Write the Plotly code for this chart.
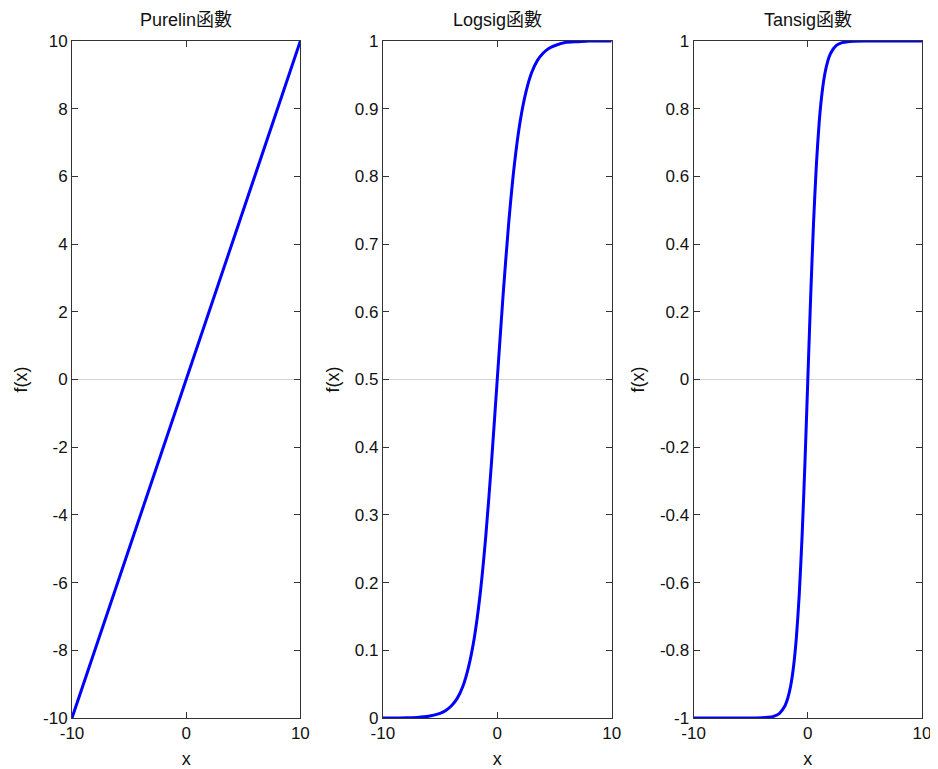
import plotly.graph_objects as go

# ---- data ----
titles = ["Purelin函數", "Logsig函數", "Tansig函數"]

pure_x = [-10, 10]
pure_y = [-10, 10]

log_x = [-10, -9, -8, -7, -6, -5, -4.5, -4, -3.5, -3, -2.5, -2, -1.5, -1, -0.5, 0,
         0.5, 1, 1.5, 2, 2.5, 3, 3.5, 4, 4.5, 5, 6, 7, 8, 9, 10]
log_y = [0.0000, 0.0001, 0.0003, 0.0009, 0.0025, 0.0067, 0.011, 0.018, 0.029, 0.047,
         0.076, 0.119, 0.182, 0.269, 0.378, 0.500, 0.622, 0.731, 0.818, 0.881, 0.924,
         0.953, 0.971, 0.982, 0.989, 0.993, 0.998, 0.999, 1.000, 1.000, 1.000]

tan_x = [-10, -8, -6, -5, -4, -3.5, -3, -2.5, -2, -1.75, -1.5, -1.25, -1, -0.75, -0.5,
         -0.25, 0, 0.25, 0.5, 0.75, 1, 1.25, 1.5, 1.75, 2, 2.5, 3, 3.5, 4, 5, 6, 8, 10]
tan_y = [-1.000, -1.000, -1.000, -1.000, -0.999, -0.998, -0.995, -0.987, -0.964, -0.941,
         -0.905, -0.848, -0.762, -0.635, -0.462, -0.245, 0.000, 0.245, 0.462, 0.635,
         0.762, 0.848, 0.905, 0.941, 0.964, 0.987, 0.995, 0.998, 0.999, 1.000, 1.000,
         1.000, 1.000]

mid_lines = [0, 0.5, 0]

x_ticks = [-10, 0, 10]
y_ticks_1 = [-10, -8, -6, -4, -2, 0, 2, 4, 6, 8, 10]
y_ticks_2 = [0, 0.1, 0.2, 0.3, 0.4, 0.5, 0.6, 0.7, 0.8, 0.9, 1]
y_labels_2 = ["0", "0.1", "0.2", "0.3", "0.4", "0.5", "0.6", "0.7", "0.8", "0.9", "1"]
y_ticks_3 = [-1, -0.8, -0.6, -0.4, -0.2, 0, 0.2, 0.4, 0.6, 0.8, 1]
y_labels_3 = ["-1", "-0.8", "-0.6", "-0.4", "-0.2", "0", "0.2", "0.4", "0.6", "0.8", "1"]

y_ranges = [[-10, 10], [0, 1], [-1, 1]]

# ---- figure ----
# the page body has an 8px margin, so the figure is offset by 8px
OFF = 8
W, H = 938 - OFF, 769 - OFF
FONT = "Liberation Sans, Arial, Noto Sans CJK TC, sans-serif"
ML, MR, MT, MB = 72 - OFF, 15.5, 41 - OFF, 51
PW = W - ML - MR
px_edges = [(72, 300.5), (383, 612), (694, 922.5)]
x_dom = [[(a - OFF - ML) / PW, (b - OFF - ML) / PW] for a, b in px_edges]
PH = 718 - 41

fig = go.Figure()
series = [(pure_x, pure_y), (log_x, log_y), (tan_x, tan_y)]
for i, (xs, ys) in enumerate(series):
    xa = "x" if i == 0 else f"x{i+1}"
    ya = "y" if i == 0 else f"y{i+1}"
    fig.add_trace(go.Scatter(x=[x_ticks[0], x_ticks[-1]], y=[mid_lines[i], mid_lines[i]],
                             mode="lines", line=dict(color="#d4d4d4", width=1),
                             xaxis=xa, yaxis=ya, hoverinfo="skip", showlegend=False))
    fig.add_trace(go.Scatter(x=xs, y=ys, mode="lines",
                             line=dict(color="#0000ff", width=3, shape="spline", smoothing=0.6),
                             xaxis=xa, yaxis=ya, showlegend=False))

axis_common = dict(showline=True, linecolor="#333333", linewidth=1, mirror="ticks",
                   ticks="inside", ticklen=6, tickcolor="#333333", showgrid=False,
                   zeroline=False, automargin=False,
                   tickfont=dict(family=FONT, size=17, color="#111111"))

yticks = [(y_ticks_1, [str(v) for v in y_ticks_1]), (y_ticks_2, y_labels_2), (y_ticks_3, y_labels_3)]
layout = {}
for i in range(3):
    sx = "" if i == 0 else str(i + 1)
    layout[f"xaxis{sx}"] = dict(axis_common, domain=x_dom[i], range=[-10, 10],
                                tickvals=x_ticks, ticktext=[str(v) for v in x_ticks],
                                anchor=f"y{sx}",
                                title=dict(text="x", font=dict(family=FONT, size=18, color="#111111"),
                                           standoff=10))
    layout[f"yaxis{sx}"] = dict(axis_common, domain=[0, 1], range=y_ranges[i],
                                tickvals=yticks[i][0], ticktext=yticks[i][1],
                                anchor=f"x{sx}",
                                title=dict(text="f(x)", font=dict(family=FONT, size=18, color="#111111"),
                                           standoff=10))
fig.update_layout(**layout)

for i in range(3):
    sx = "" if i == 0 else str(i + 1)
    fig.add_annotation(text=titles[i], x=0.5, y=1 + 21 / PH,
                       xref=f"x{sx} domain", yref=f"y{sx} domain", showarrow=False,
                       font=dict(family=FONT, size=18, color="#111111"),
                       xanchor="center", yanchor="middle")

fig.update_layout(width=W, height=H, margin=dict(l=ML, r=MR, t=MT, b=MB, autoexpand=False),
                  paper_bgcolor="white", plot_bgcolor="white")

fig.write_html("out.html")
